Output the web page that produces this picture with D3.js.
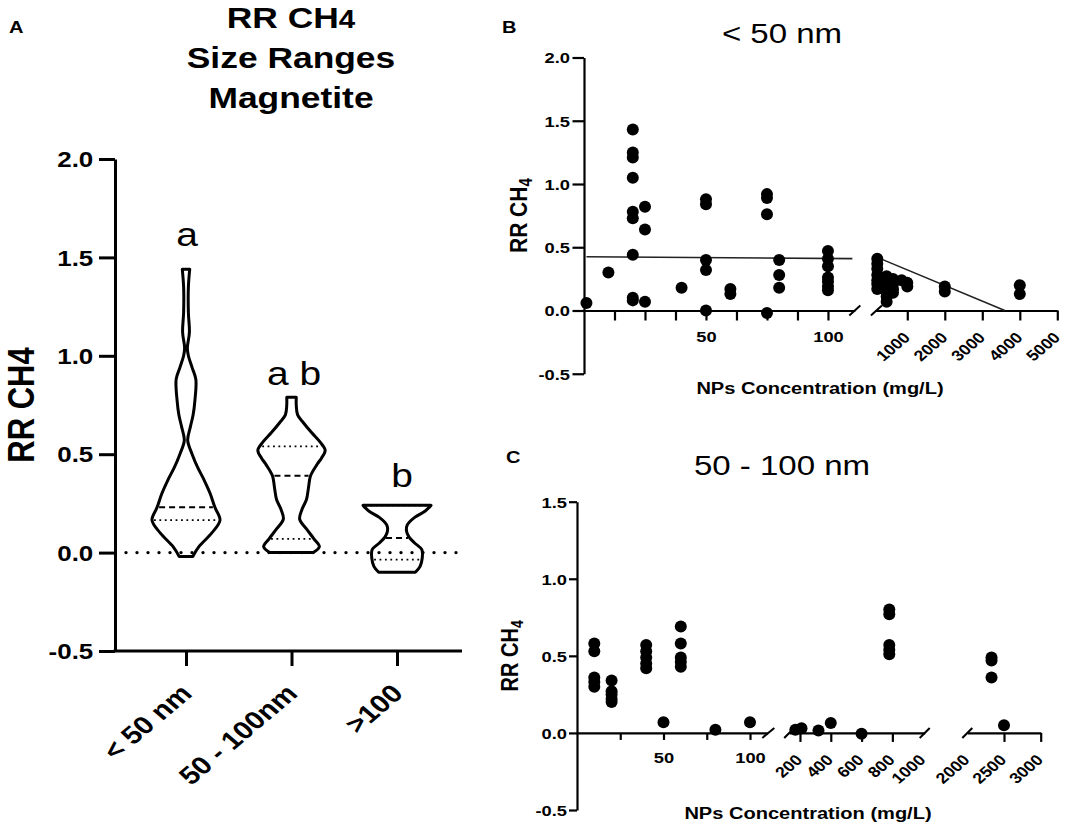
<!DOCTYPE html>
<html><head><meta charset="utf-8">
<script src="https://cdn.jsdelivr.net/npm/d3@7"></script>
<style>
body{margin:0;background:#fff}
svg{display:block;background:#fff}
text{font-family:"Liberation Sans",Arial,Helvetica,sans-serif;fill:#000}
</style>
</head><body>
<svg id="c" width="1065" height="826"></svg>
<script>
// ---------------- DATA ----------------
// Panel A : violin plots (value, relative density)
const groupsA = ["< 50 nm", "50 - 100nm", ">100"];
const violinLt50 = [[-0.02,0.20],[0.03,0.38],[0.10,0.76],[0.165,1.0],[0.23,0.85],[0.30,0.71],[0.37,0.53],[0.43,0.35],[0.50,0.18],[0.57,0.05],[0.64,0.13],[0.70,0.21],[0.77,0.26],[0.88,0.29],[0.94,0.18],[1.00,0.07],[1.04,0.04],[1.12,0.10],[1.22,0.07],[1.35,0.07],[1.44,0.11]];
const violin50to100 = [[0.00,0.64],[0.03,0.82],[0.07,0.66],[0.12,0.44],[0.17,0.24],[0.22,0.31],[0.27,0.44],[0.33,0.50],[0.39,0.56],[0.45,0.76],[0.48,0.88],[0.52,0.99],[0.56,0.85],[0.61,0.59],[0.66,0.35],[0.70,0.18],[0.75,0.14],[0.79,0.14]];
const violinGt100 = [[-0.10,0.54],[-0.07,0.68],[-0.03,0.74],[0.015,0.73],[0.05,0.51],[0.08,0.35],[0.11,0.28],[0.14,0.30],[0.18,0.53],[0.21,0.82],[0.24,1.0]];
const mediansA = [0.23, 0.39, 0.074];
const quartilesA = [[0.165], [0.07, 0.54], [-0.036, 0.24]];
const lettersA = ["a", "a b", "b"];
const letterValuesA = [1.558, 0.853, 0.335];
const yTicksA = [-0.5, 0, 0.5, 1.0, 1.5, 2.0];

// Panel B : < 50 nm
const yTicksB = [-0.5, 0, 0.5, 1.0, 1.5, 2.0];
const xTicksB1 = [12.5, 25, 37.5, 50, 62.5, 75, 87.5, 100];
const xLabelsB1 = [50, 100];
const xTicksB2 = [1000, 2000, 3000, 4000, 5000];
const pointsB1 = [
  [1,0.06],[10,0.30],
  [20,1.43],[20,1.25],[20,1.21],[20,1.05],[20,0.78],[20,0.73],[20,0.44],[20,0.10],[20,0.08],
  [25,0.82],[25,0.64],[25,0.07],
  [40,0.18],
  [50,0.88],[50,0.84],[50,0.40],[50,0.32],[50,0.0],
  [60,0.17],[60,0.13],
  [75,0.92],[75,0.89],[75,0.76],[75,-0.02],
  [80,0.40],[80,0.28],[80,0.18],
  [100,0.47],[100,0.41],[100,0.35],[100,0.26],[100,0.23],[100,0.19],[100,0.16]
];
const pointsB2 = [
  [200,0.41],[200,0.37],[200,0.33],[200,0.28],[200,0.24],[200,0.21],[200,0.17],
  [450,0.27],[450,0.23],[450,0.19],[450,0.15],[450,0.11],[450,0.07],
  [620,0.25],[620,0.21],[620,0.17],[620,0.14],
  [850,0.24],[1000,0.22],[1000,0.19],
  [2000,0.19],[2000,0.15],
  [4000,0.20],[4000,0.13]
];
const fitB1 = [[1,0.425],[110,0.41]];
const fitB2 = [[200,0.42],[3600,0.0]];

// Panel C : 50 - 100 nm
const yTicksC = [-0.5, 0, 0.5, 1.0, 1.5];
const xTicksC1 = [25, 50, 75, 100];
const xLabelsC1 = [50, 100];
const xTicksC2 = [200, 400, 600, 800, 1000];
const xTicksC3 = [2000, 2500, 3000];
const pointsC1 = [
  [10,0.58],[10,0.53],[10,0.36],[10,0.33],[10,0.30],
  [20,0.34],[20,0.27],[20,0.25],[20,0.22],[20,0.20],
  [40,0.57],[40,0.53],[40,0.49],[40,0.45],[40,0.42],
  [50,0.07],
  [60,0.69],[60,0.58],[60,0.49],[60,0.46],[60,0.43],
  [80,0.02],[100,0.07]
];
const pointsC2 = [
  [170,0.02],[210,0.03],[320,0.015],[400,0.065],[600,-0.005],
  [780,0.80],[780,0.77],[780,0.57],[780,0.54],[780,0.51]
];
const pointsC3 = [[2330,0.49],[2330,0.47],[2330,0.36],[2500,0.05]];

// ---------------- DRAWING ----------------
const SX = 1.18;             // horizontal stretch of the original artwork text
const svg = d3.select('#c');
const fmt1 = d => d.toFixed(1);

function label(g, x, y, s, o = {}) {
  const t = g.append('text')
    .attr('transform', `translate(${x},${y}) scale(${SX},1)` + (o.rot ? ` rotate(${o.rot})` : ''))
    .attr('text-anchor', o.anchor || 'middle')
    .attr('font-size', o.size || 14)
    .attr('font-weight', o.weight || 'normal');
  if (o.sub) {
    t.append('tspan').text(s);
    t.append('tspan').attr('font-size', o.subSize).attr('dy', o.subDy || 0).text(o.sub);
  } else t.text(s);
  return t;
}
function styleLines(g, sw) {
  g.selectAll('path.domain, .tick line').attr('stroke', '#000').attr('stroke-width', sw);
}
function leftAxis(g, size, pad, fs, sw) {
  g.attr('font-size', fs).attr('font-weight', 'bold');
  g.selectAll('.tick text').attr('x', null).attr('dy', '0.35em')
    .attr('transform', `translate(${-(size + pad)},0) scale(${SX},1)`);
  styleLines(g, sw);
}
function bottomAxis(g, off, fs, sw) {
  g.attr('font-size', fs).attr('font-weight', 'bold');
  g.selectAll('.tick text').attr('y', null).attr('dy', null)
    .attr('transform', `translate(0,${off}) scale(${SX},1)`);
  styleLines(g, sw);
}
function bottomAxisRot(g, dx, dy, fs, sw) {
  g.attr('font-size', fs).attr('font-weight', 'bold');
  g.selectAll('.tick text').attr('y', null).attr('dy', null).attr('text-anchor', 'end')
    .attr('transform', `translate(${dx},${dy}) scale(${SX},1) rotate(-45)`);
  styleLines(g, sw);
}
function slash(g, cx, cy, hx, hy, sw) {
  g.append('line').attr('x1', cx - hx).attr('y1', cy + hy).attr('x2', cx + hx).attr('y2', cy - hy)
    .attr('stroke', '#000').attr('stroke-width', sw);
}

// ===== Panel A =====
const gA = svg.append('g');
const yA = d3.scaleLinear([-0.5, 2.0], [651, 159]);
const xA = d3.scalePoint(groupsA, [186, 397]);
const wA = d3.scaleLinear([0, 1], [0, 34]);

label(gA, 9, 33, 'A', {anchor: 'start', size: 17, weight: 'bold'});
label(gA, 291, 28, 'RR CH', {size: 30, weight: 'bold', sub: '4', subSize: 25});
label(gA, 291, 68, 'Size Ranges', {size: 30, weight: 'bold'});
label(gA, 291, 108, 'Magnetite', {size: 30, weight: 'bold'});
label(gA, 34, (yA(-0.5) + yA(2.0)) / 2, 'RR CH4', {size: 31, weight: 'bold', rot: -90});

const axYA = gA.append('g').attr('transform', 'translate(115,0)')
  .call(d3.axisLeft(yA).tickValues(yTicksA).tickFormat(fmt1).tickSize(16).tickSizeOuter(0));
leftAxis(axYA, 16, 5.7, 22, 3);

gA.append('line').attr('x1', 113.5).attr('x2', 462).attr('y1', yA(-0.5)).attr('y2', yA(-0.5))
  .attr('stroke', '#000').attr('stroke-width', 3);
const axXA = gA.append('g').attr('transform', `translate(0,${yA(-0.5)})`)
  .call(d3.axisBottom(xA).tickSize(15).tickSizeOuter(0));
axXA.select('path.domain').remove();
bottomAxisRot(axXA, 7, 44, 25, 3);

const profilesA = [violinLt50, violin50to100, violinGt100];
function hwAt(p, v) {
  for (let i = 0; i < p.length - 1; i++) {
    if (v >= p[i][0] && v <= p[i + 1][0]) {
      const t = (v - p[i][0]) / (p[i + 1][0] - p[i][0]);
      return wA(p[i][1] + t * (p[i + 1][1] - p[i][1]));
    }
  }
  return wA(v < p[0][0] ? p[0][1] : p[p.length - 1][1]);
}
profilesA.forEach((p, i) => {
  const cx = xA(groupsA[i]);
  const area = d3.area().curve(d3.curveCatmullRom.alpha(0.5))
    .y(d => yA(d[0])).x0(d => cx - wA(d[1])).x1(d => cx + wA(d[1]));
  gA.append('path').attr('d', area(p)).attr('fill', 'none').attr('stroke', '#000')
    .attr('stroke-width', 3).attr('stroke-linejoin', 'round');
  const hm = hwAt(p, mediansA[i]) - 2;
  gA.append('line').attr('x1', cx - hm).attr('x2', cx + hm)
    .attr('y1', yA(mediansA[i])).attr('y2', yA(mediansA[i]))
    .attr('stroke', '#000').attr('stroke-width', 2).attr('stroke-dasharray', '6,4');
  quartilesA[i].forEach(q => {
    const h = hwAt(p, q) - 2;
    gA.append('line').attr('x1', cx - h).attr('x2', cx + h).attr('y1', yA(q)).attr('y2', yA(q))
      .attr('stroke', '#000').attr('stroke-width', 1.8).attr('stroke-dasharray', '1.8,3.6');
  });
});
// zero reference line
gA.append('path').attr('d', d3.line()([[126, yA(0)], [462, yA(0)]]))
  .attr('stroke', '#000').attr('stroke-width', 3.4).attr('stroke-linecap', 'round')
  .attr('stroke-dasharray', '0,11');
const letterDx = [1, 2.5, 5];
lettersA.forEach((s, i) => label(gA, xA(groupsA[i]) + letterDx[i], yA(letterValuesA[i]), s, {size: 33}));

// ===== Panel B =====
const gB = svg.append('g');
const yB = d3.scaleLinear([-0.5, 2.0], [373.75, 57.5]);
const xB1 = d3.scaleLinear([0, 111], [584, 854.8]);
const xB2 = d3.scaleLinear([150, 5000], [875.4, 1057.3]);

label(gB, 502, 33, 'B', {anchor: 'start', size: 17, weight: 'bold'});
label(gB, 782, 43, '< 50 nm', {size: 28});
label(gB, 527, (yB(-0.5) + yB(2.0)) / 2, 'RR CH', {size: 21, weight: 'bold', rot: -90, sub: '4', subSize: 15, subDy: 4});
label(gB, 820, 394, 'NPs Concentration (mg/L)', {size: 17, weight: 'bold'});

const axYB = gB.append('g').attr('transform', 'translate(584,0)')
  .call(d3.axisLeft(yB).tickValues(yTicksB).tickFormat(fmt1).tickSize(11.5).tickSizeOuter(0));
leftAxis(axYB, 11.5, 2.5, 15.5, 2.2);

const axXB1 = gB.append('g').attr('transform', `translate(0,${yB(0)})`)
  .call(d3.axisBottom(xB1).tickValues(xTicksB1).tickSize(10).tickSizeOuter(0)
    .tickFormat(d => xLabelsB1.includes(d) ? d : ''));
bottomAxis(axXB1, 31, 15.5, 2.2);
const axXB2 = gB.append('g').attr('transform', `translate(0,${yB(0)})`)
  .call(d3.axisBottom(xB2).tickValues(xTicksB2).tickSize(10).tickSizeOuter(0).tickFormat(d => d));
bottomAxisRot(axXB2, 3.5, 28, 15, 2.2);
slash(gB, xB1.range()[1], yB(0), 5.5, 5, 2);
slash(gB, xB2.range()[0] + 1, yB(0), 5.5, 5, 2);

const lineB1 = d3.line().x(d => xB1(d[0])).y(d => yB(d[1]));
const lineB2 = d3.line().x(d => xB2(d[0])).y(d => yB(d[1]));
gB.append('path').attr('d', lineB1(fitB1)).attr('stroke', '#222').attr('stroke-width', 1.6).attr('fill', 'none');
gB.append('path').attr('d', lineB2(fitB2)).attr('stroke', '#222').attr('stroke-width', 1.6).attr('fill', 'none');

gB.selectAll('circle.b1').data(pointsB1).join('circle').attr('class', 'b1')
  .attr('cx', d => xB1(d[0])).attr('cy', d => yB(d[1])).attr('r', 6).attr('fill', '#000');
gB.selectAll('circle.b2').data(pointsB2).join('circle').attr('class', 'b2')
  .attr('cx', d => xB2(d[0])).attr('cy', d => yB(d[1])).attr('r', 6).attr('fill', '#000');

// ===== Panel C =====
const gC = svg.append('g');
const yC = d3.scaleLinear([-0.5, 1.5], [810, 501.7]);
const xC1 = d3.scaleLinear([0, 110], [577, 767.3]);
const xC2 = d3.scaleLinear([130, 1010], [789.2, 924.7]);
const xC3 = d3.scaleLinear([2000, 3000], [967.3, 1040.7]);

label(gC, 506, 463, 'C', {anchor: 'start', size: 17, weight: 'bold'});
label(gC, 782, 475, '50 - 100 nm', {size: 28});
label(gC, 518, (yC(-0.5) + yC(1.5)) / 2, 'RR CH', {size: 20, weight: 'bold', rot: -90, sub: '4', subSize: 14, subDy: 4});
label(gC, 808, 819, 'NPs Concentration (mg/L)', {size: 17, weight: 'bold'});

const axYC = gC.append('g').attr('transform', 'translate(577,0)')
  .call(d3.axisLeft(yC).tickValues(yTicksC).tickFormat(fmt1).tickSize(8).tickSizeOuter(0));
leftAxis(axYC, 8, 2, 15.5, 2.2);

const axXC1 = gC.append('g').attr('transform', `translate(0,${yC(0)})`)
  .call(d3.axisBottom(xC1).tickValues(xTicksC1).tickSize(7).tickSizeOuter(0)
    .tickFormat(d => xLabelsC1.includes(d) ? d : ''));
bottomAxis(axXC1, 30.5, 15.5, 2.2);
const axXC2 = gC.append('g').attr('transform', `translate(0,${yC(0)})`)
  .call(d3.axisBottom(xC2).tickValues(xTicksC2).tickSize(9).tickSizeOuter(0).tickFormat(d => d));
bottomAxisRot(axXC2, 3, 28, 15, 2.2);
axXC2.selectAll('.tick').filter(d => d === 1000).select('line').remove();
const axXC3 = gC.append('g').attr('transform', `translate(0,${yC(0)})`)
  .call(d3.axisBottom(xC3).tickValues(xTicksC3).tickSize(9).tickSizeOuter(0).tickFormat(d => d));
bottomAxisRot(axXC3, 3, 28, 15, 2.2);
axXC3.selectAll('.tick').filter(d => d === 2000).select('line').remove();
slash(gC, xC1.range()[1] + 1, yC(0), 6, 5, 2);
slash(gC, xC2.range()[0], yC(0), 5, 5, 2);
slash(gC, xC2.range()[1], yC(0), 5, 5, 2);
slash(gC, xC3.range()[0], yC(0), 5, 5, 2);

[[pointsC1, xC1], [pointsC2, xC2], [pointsC3, xC3]].forEach(([pts, xs], k) => {
  gC.selectAll('circle.c' + k).data(pts).join('circle').attr('class', 'c' + k)
    .attr('cx', d => xs(d[0])).attr('cy', d => yC(d[1])).attr('r', 6).attr('fill', '#000');
});
</script>
</body></html>
